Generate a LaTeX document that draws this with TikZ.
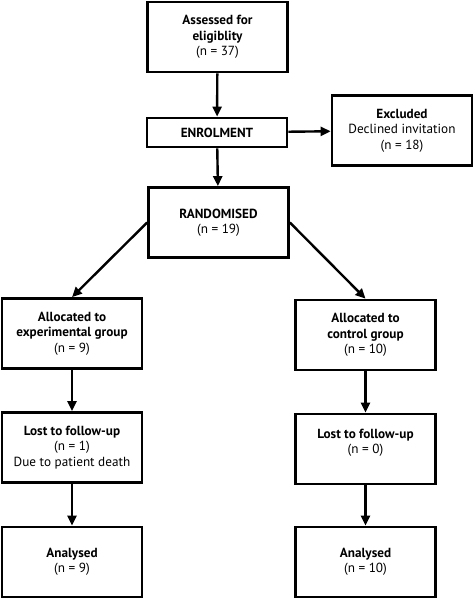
\documentclass[tikz,border=0pt]{standalone}
\usepackage{fontspec}
\setmainfont{PT Sans}
\usetikzlibrary{arrows.meta}
\begin{document}
\begin{tikzpicture}[x=1pt,y=-1pt,
  box/.style={draw=black, line width=2.7pt, fill=white, minimum width=140pt, minimum height=70pt, align=center, inner sep=0pt, font=\fontsize{13.2}{15.5}\selectfont},
  txt/.style={align=center, inner sep=0pt, font=\fontsize{13.2}{15.5}\selectfont},
  arr/.style={line width=2.4pt, -{Triangle[length=10pt,width=9pt]}}
]
\useasboundingbox (0,0) rectangle (474,600);
\node[box] (assess) at (217.5,37) {\textbf{Assessed for}\\\textbf{eligiblity}\\(n = 37)};
\node[box, minimum height=29pt] (enrol) at (217,132.5) {\textbf{ENROLMENT}};
\node[box] (excl) at (402,130.5) {\textbf{Excluded}\\Declined invitation\\(n = 18)};
\node[box] (rand) at (218.5,222.5) {\textbf{RANDOMISED}\\(n = 19)};
\node[box] (allocL) at (72,333.5) {\textbf{Allocated to}\\\textbf{experimental group}\\(n = 9)};
\node[box] (allocR) at (365.5,335) {\textbf{Allocated to}\\\textbf{control group}\\(n = 10)};
\node[box] (lostL) at (72,447.5) {\textbf{Lost to follow-up}\\(n = 1)\\Due to patient death};
\node[box] (lostR) at (365.5,449) {};
\node[txt] (lostRt) at (365.5,443) {\textbf{Lost to follow-up}\\(n = 0)};
\node[box] (analL) at (72,562) {\textbf{Analysed}\\(n = 9)};
\node[box] (analR) at (365.5,562) {\textbf{Analysed}\\(n = 10)};
\draw[arr] (assess) -- (enrol);
\draw[arr] (enrol) -- (rand);
\draw[arr] (enrol) -- (excl);
\draw[arr] (rand.west) -- (allocL.north);
\draw[arr] (rand.east) -- (allocR.north);
\draw[arr] (allocL) -- (lostL);
\draw[arr] (lostL) -- (analL);
\draw[arr] (allocR) -- (lostR);
\draw[arr] (lostR) -- (analR);
\end{tikzpicture}
\end{document}
